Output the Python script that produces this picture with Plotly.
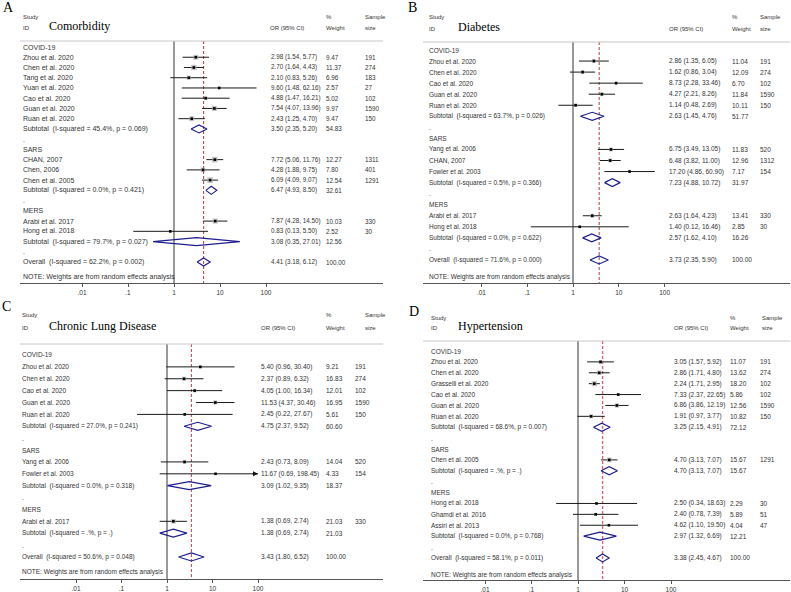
import math
import plotly.graph_objects as go

W, H = 791, 592
GROUPS = ["COVID-19", "SARS", "MERS"]
TICK_VALS = [0.01, 0.1, 1, 10, 100]
TICK_TEXT = [".01", ".1", "1", "10", "100"]
CLIP = 100

# ---------------- Panel A : Comorbidity ----------------
A_study = ["Zhou et al. 2020", "Chen et al. 2020", "Tang et al. 2020", "Yuan et al. 2020",
           "Cao et al. 2020", "Guan et al. 2020", "Ruan et al. 2020",
           "CHAN, 2007", "Chen, 2006", "Chen et al. 2005",
           "Arabi et al. 2017", "Hong et al. 2018"]
A_group = ["COVID-19"] * 7 + ["SARS"] * 3 + ["MERS"] * 2
A_or = [2.98, 2.70, 2.10, 9.60, 4.88, 7.54, 2.43, 7.72, 4.28, 6.09, 7.87, 0.83]
A_lo = [1.54, 1.64, 0.83, 1.48, 1.47, 4.07, 1.25, 5.06, 1.88, 4.09, 4.28, 0.13]
A_hi = [5.77, 4.43, 5.26, 62.16, 16.21, 13.96, 4.70, 11.76, 9.75, 9.07, 14.50, 5.50]
A_weight = [9.47, 11.37, 6.96, 2.57, 5.02, 9.97, 9.47, 12.27, 7.80, 12.54, 10.03, 2.52]
A_size = [191, 274, 183, 27, 102, 1590, 150, 1311, 401, 1291, 330, 30]
A_sub_het = ["I-squared = 45.4%, p = 0.069", "I-squared = 0.0%, p = 0.421", "I-squared = 79.7%, p = 0.027"]
A_sub_or = [3.50, 6.47, 3.08]
A_sub_lo = [2.35, 4.93, 0.35]
A_sub_hi = [5.20, 8.50, 27.01]
A_sub_weight = [54.83, 32.61, 12.56]
A_all_het = "I-squared = 62.2%, p = 0.002"
A_all = [4.41, 3.18, 6.12]

# ---------------- Panel B : Diabetes ----------------
B_study = ["Zhou et al. 2020", "Chen et al. 2020", "Cao et al. 2020", "Guan et al. 2020", "Ruan et al. 2020",
           "Yang et al. 2006", "CHAN, 2007", "Fowler et al. 2003",
           "Arabi et al. 2017", "Hong et al. 2018"]
B_group = ["COVID-19"] * 5 + ["SARS"] * 3 + ["MERS"] * 2
B_or = [2.86, 1.62, 8.73, 4.27, 1.14, 6.75, 6.48, 17.20, 2.63, 1.40]
B_lo = [1.35, 0.86, 2.28, 2.21, 0.48, 3.49, 3.82, 4.86, 1.64, 0.12]
B_hi = [6.05, 3.04, 33.46, 8.26, 2.69, 13.05, 11.00, 60.90, 4.23, 16.46]
B_weight = [11.04, 12.09, 6.70, 11.84, 10.11, 11.83, 12.96, 7.17, 13.41, 2.85]
B_size = [191, 274, 102, 1590, 150, 520, 1312, 154, 330, 30]
B_sub_het = ["I-squared = 63.7%, p = 0.026", "I-squared = 0.5%, p = 0.366", "I-squared = 0.0%, p = 0.622"]
B_sub_or = [2.63, 7.23, 2.57]
B_sub_lo = [1.45, 4.88, 1.62]
B_sub_hi = [4.76, 10.72, 4.10]
B_sub_weight = [51.77, 31.97, 16.26]
B_all_het = "I-squared = 71.6%, p = 0.000"
B_all = [3.73, 2.35, 5.90]

# ---------------- Panel C : Chronic Lung Disease ----------------
C_study = ["Zhou et al. 2020", "Chen et al. 2020", "Cao et al. 2020", "Guan et al. 2020", "Ruan et al. 2020",
           "Yang et al. 2006", "Fowler et al. 2003",
           "Arabi et al. 2017"]
C_group = ["COVID-19"] * 5 + ["SARS"] * 2 + ["MERS"]
C_or = [5.40, 2.37, 4.05, 11.53, 2.45, 2.43, 11.67, 1.38]
C_lo = [0.96, 0.89, 1.00, 4.37, 0.22, 0.73, 0.69, 0.69]
C_hi = [30.40, 6.32, 16.34, 30.46, 27.67, 8.09, 198.45, 2.74]
C_weight = [9.21, 16.83, 12.01, 16.95, 5.61, 14.04, 4.33, 21.03]
C_size = [191, 274, 102, 1590, 150, 520, 154, 330]
C_sub_het = ["I-squared = 27.0%, p = 0.241", "I-squared = 0.0%, p = 0.318", "I-squared = .%, p = ."]
C_sub_or = [4.75, 3.09, 1.38]
C_sub_lo = [2.37, 1.02, 0.69]
C_sub_hi = [9.52, 9.35, 2.74]
C_sub_weight = [60.60, 18.37, 21.03]
C_all_het = "I-squared = 50.6%, p = 0.048"
C_all = [3.43, 1.80, 6.52]

# ---------------- Panel D : Hypertension ----------------
D_study = ["Zhou et al. 2020", "Chen et al. 2020", "Grasselli et al. 2020", "Cao et al. 2020",
           "Guan et al. 2020", "Ruan et al. 2020",
           "Chen et al. 2005",
           "Hong et al. 2018", "Ghamdi et al. 2016", "Assiri et al. 2013"]
D_group = ["COVID-19"] * 6 + ["SARS"] + ["MERS"] * 3
D_or = [3.05, 2.86, 2.24, 7.33, 6.86, 1.91, 4.70, 2.50, 2.40, 4.62]
D_lo = [1.57, 1.71, 1.71, 2.37, 3.86, 0.97, 3.13, 0.34, 0.78, 1.10]
D_hi = [5.92, 4.80, 2.95, 22.65, 12.19, 3.77, 7.07, 18.63, 7.39, 19.50]
D_weight = [11.07, 13.62, 18.20, 5.86, 12.56, 10.82, 15.67, 2.29, 5.89, 4.04]
D_size = [191, 274, 102, 102, 1590, 150, 1291, 30, 51, 47]
D_sub_het = ["I-squared = 68.6%, p = 0.007", "I-squared = .%, p = .", "I-squared = 0.0%, p = 0.768"]
D_sub_or = [3.25, 4.70, 2.97]
D_sub_lo = [2.15, 3.13, 1.32]
D_sub_hi = [4.91, 7.07, 6.69]
D_sub_weight = [72.12, 15.67, 12.21]
D_all_het = "I-squared = 58.1%, p = 0.011"
D_all = [3.38, 2.45, 4.67]

PANELS = [
    dict(letter="A", title="Comorbidity", study=A_study, group=A_group, or_=A_or, lo=A_lo, hi=A_hi,
         w=A_weight, n=A_size, sub_het=A_sub_het, sub_or=A_sub_or, sub_lo=A_sub_lo, sub_hi=A_sub_hi,
         sub_w=A_sub_weight, all_het=A_all_het, all_=A_all,
         g=dict(x0=20, x1=383, one=174, ppd=46, top=41, bottom=283, row0=47, step=10.24, note=277,
                lab=22, orx=270, wx=325, nx=364, hy1=17, hy2=28, titx=48, hor=269, hw=325, hn=364,
                lx=2, ly=8, box=1.6, ref="#b23a3a", refw=1.0, lfs=7.0, nfs=6.3)),
    dict(letter="B", title="Diabetes", study=B_study, group=B_group, or_=B_or, lo=B_lo, hi=B_hi,
         w=B_weight, n=B_size, sub_het=B_sub_het, sub_or=B_sub_or, sub_lo=B_sub_lo, sub_hi=B_sub_hi,
         sub_w=B_sub_weight, all_het=B_all_het, all_=B_all,
         g=dict(x0=423, x1=790, one=573, ppd=45.8, top=42, bottom=283, row0=50, step=11.05, note=277,
                lab=428, orx=668, wx=731, nx=759, hy1=17, hy2=29, titx=457, hor=668, hw=731, hn=759,
                lx=407, ly=7, box=1.1, ref="#b23a3a", refw=1.0, lfs=6.5, nfs=6.5)),
    dict(letter="C", title="Chronic Lung Disease", study=C_study, group=C_group, or_=C_or, lo=C_lo, hi=C_hi,
         w=C_weight, n=C_size, sub_het=C_sub_het, sub_or=C_sub_or, sub_lo=C_sub_lo, sub_hi=C_sub_hi,
         sub_w=C_sub_weight, all_het=C_all_het, all_=C_all,
         g=dict(x0=20, x1=383, one=167, ppd=45.5, top=344, bottom=579, row0=355, step=11.88, note=572,
                lab=21, orx=260, wx=325, nx=354, hy1=315, hy2=328, titx=48, hor=260, hw=325, hn=364,
                lx=1, ly=306, box=1.0, ref="#c0394a", refw=1.0, lfs=6.5, nfs=6.5)),
    dict(letter="D", title="Hypertension", study=D_study, group=D_group, or_=D_or, lo=D_lo, hi=D_hi,
         w=D_weight, n=D_size, sub_het=D_sub_het, sub_or=D_sub_or, sub_lo=D_sub_lo, sub_hi=D_sub_hi,
         sub_w=D_sub_weight, all_het=D_all_het, all_=D_all,
         g=dict(x0=423, x1=790, one=578, ppd=46.5, top=341, bottom=580, row0=351, step=10.89, note=575,
                lab=430, orx=673, wx=729, nx=759, hy1=318, hy2=328, titx=457, hor=673, hw=729, hn=761,
                lx=408, ly=311, box=1.2, ref="#d8647c", refw=1.4, lfs=6.5, nfs=6.5)),
]

SANS = "Liberation Sans, Arial, sans-serif"
SERIF = "Liberation Serif, Times New Roman, serif"
TXT = "#333333"
FS = 6.5


def fmt_ci(o, l, h):
    return f"{o:.2f} ({l:.2f}, {h:.2f})"


fig = go.Figure()
annotations = []
shapes = []
axes = {}

for idx, P in enumerate(PANELS, start=1):
    g = P["g"]
    sfx = "" if idx == 1 else str(idx)
    xa, ya = "x" + sfx, "y" + sfx
    y_bot = (g["bottom"] - g["row0"]) / g["step"]
    y_top = (g["top"] - g["row0"]) / g["step"]
    LF, NF = g["lfs"], g["nfs"]
    axes["xaxis" + sfx] = dict(
        type="log", range=[(g["x0"] - g["one"]) / g["ppd"], (g["x1"] - g["one"]) / g["ppd"]],
        domain=[g["x0"] / W, g["x1"] / W], anchor=ya,
        showline=True, linecolor="#555555", linewidth=1, ticks="outside", ticklen=3,
        tickcolor="#555555", tickwidth=1, tickvals=TICK_VALS, ticktext=TICK_TEXT,
        tickfont=dict(family=SANS, size=FS, color=TXT), showgrid=False, zeroline=False, fixedrange=True)
    axes["yaxis" + sfx] = dict(domain=[1 - g["bottom"] / H, 1 - g["top"] / H], range=[y_bot, y_top],
                               visible=False, anchor=xa, fixedrange=True)

    def txt(px, row, s, size=FS, family=SANS, color=TXT):
        annotations.append(dict(x=px / W, xref="paper", y=row, yref=ya, text=s, showarrow=False,
                                xanchor="left", yanchor="middle", borderpad=0,
                                font=dict(family=family, size=size, color=color)))

    def ptxt(px, py, s, size=FS, family=SANS, color=TXT):
        annotations.append(dict(x=px / W, xref="paper", y=1 - py / H, yref="paper", text=s,
                                showarrow=False, xanchor="left", yanchor="middle", borderpad=0,
                                font=dict(family=family, size=size, color=color)))

    # header
    ptxt(g["lx"], g["ly"], P["letter"], size=14, family=SERIF, color="#000000")
    ptxt(g["lab"], g["hy1"], "Study", size=6)
    ptxt(g["lab"], g["hy2"], "ID", size=6)
    ptxt(g["titx"], g["hy2"] - 2, P["title"], size=12, family=SERIF, color="#000000")
    ptxt(g["hor"], g["hy2"], "OR (95% CI)", size=6)
    ptxt(g["hw"], g["hy1"], "%", size=6)
    ptxt(g["hw"], g["hy2"], "Weight", size=6)
    ptxt(g["hn"], g["hy1"], "Sample", size=6)
    ptxt(g["hn"], g["hy2"], "size", size=6)
    shapes.append(dict(type="line", xref=xa + " domain", yref=ya + " domain", x0=0, x1=1, y0=1, y1=1,
                       line=dict(color="#c8c8c8", width=1)))

    ci_x, ci_y = [], []
    bx, by, bs = [], [], []
    dx, dy = [], []
    half = 4.0 / g["step"]
    r = 0
    for gi, grp in enumerate(GROUPS):
        txt(g["lab"], r, grp, size=LF)
        r += 1
        for k, gg in enumerate(P["group"]):
            if gg != grp:
                continue
            o, l, h = P["or_"][k], P["lo"][k], P["hi"][k]
            txt(g["lab"], r, P["study"][k], size=LF)
            txt(g["orx"], r, fmt_ci(o, l, h), size=NF)
            txt(g["wx"], r, f"{P['w'][k]:.2f}", size=NF)
            txt(g["nx"], r, str(P["n"][k]), size=NF)
            ci_x += [l, min(h, CLIP), None]
            ci_y += [r, r, None]
            if h > CLIP:
                annotations.append(dict(x=math.log10(CLIP), y=r, xref=xa, yref=ya, ax=-7, ay=0,
                                        showarrow=True, arrowhead=2, arrowsize=1, arrowwidth=1,
                                        arrowcolor="#111111", text=""))
            bx.append(o)
            by.append(r)
            bs.append(g["box"] * math.sqrt(P["w"][k]))
            r += 1
        so, sl, sh = P["sub_or"][gi], P["sub_lo"][gi], P["sub_hi"][gi]
        txt(g["lab"], r, "Subtotal  (" + P["sub_het"][gi] + ")", size=LF)
        txt(g["orx"], r, fmt_ci(so, sl, sh), size=NF)
        txt(g["wx"], r, f"{P['sub_w'][gi]:.2f}", size=NF)
        dx += [sl, so, sh, so, sl, None]
        dy += [r, r - half, r, r + half, r, None]
        r += 1
        txt(g["lab"], r, ".", size=LF)
        r += 1
    ao, al, ah = P["all_"]
    txt(g["lab"], r, "Overall  (" + P["all_het"] + ")", size=LF)
    txt(g["orx"], r, fmt_ci(ao, al, ah), size=NF)
    txt(g["wx"], r, "100.00", size=NF)
    dx += [al, ao, ah, ao, al, None]
    dy += [r, r - half, r, r + half, r, None]
    txt(g["lab"], (g["note"] - g["row0"]) / g["step"], "NOTE: Weights are from random effects analysis", size=LF)

    # null line and overall reference line
    fig.add_trace(go.Scatter(x=[1, 1], y=[y_top, y_bot], xaxis=xa, yaxis=ya, mode="lines",
                             line=dict(color="#6e6e6e", width=1.4), hoverinfo="skip", showlegend=False))
    fig.add_trace(go.Scatter(x=[ao, ao], y=[y_top, y_bot], xaxis=xa, yaxis=ya, mode="lines",
                             line=dict(color=g["ref"], width=g["refw"], dash="3px,2px"),
                             hoverinfo="skip", showlegend=False))
    # confidence intervals
    fig.add_trace(go.Scatter(x=ci_x, y=ci_y, xaxis=xa, yaxis=ya, mode="lines",
                             line=dict(color="#1a1a1a", width=1), hoverinfo="skip", showlegend=False))
    # weight boxes
    fig.add_trace(go.Scatter(x=bx, y=by, xaxis=xa, yaxis=ya, mode="markers",
                             marker=dict(symbol="square", size=bs, color="#a9a9a9", line=dict(width=0)),
                             hoverinfo="skip", showlegend=False))
    # point estimates
    fig.add_trace(go.Scatter(x=bx, y=by, xaxis=xa, yaxis=ya, mode="markers",
                             marker=dict(symbol="square", size=2.6, color="#000000", line=dict(width=0)),
                             hoverinfo="skip", showlegend=False))
    # pooled diamonds
    fig.add_trace(go.Scatter(x=dx, y=dy, xaxis=xa, yaxis=ya, mode="lines",
                             line=dict(color="#1e1e8c", width=1.2), hoverinfo="skip", showlegend=False))

fig.update_layout(width=W, height=H, margin=dict(l=0, r=0, t=0, b=0),
                  paper_bgcolor="white", plot_bgcolor="white", showlegend=False,
                  annotations=annotations, shapes=shapes, **axes)
fig.write_html("out.html", config={"displayModeBar": False},
               post_script="document.body.style.margin='0';document.body.style.overflow='hidden';")
